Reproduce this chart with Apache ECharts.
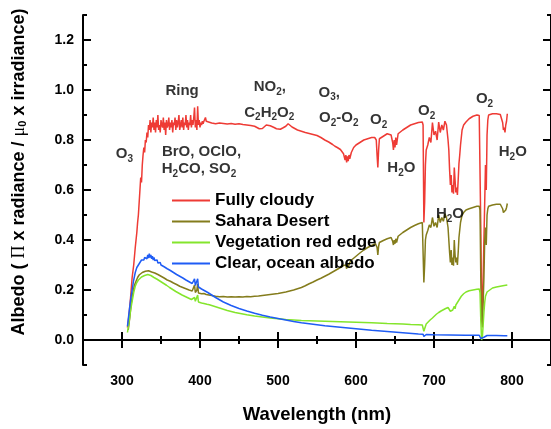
<!DOCTYPE html>
<html>
<head>
<meta charset="utf-8">
<script src="https://cdn.jsdelivr.net/npm/echarts@6/dist/echarts.min.js"></script>
<style>html,body{margin:0;padding:0;background:#fff}#c{width:551px;height:429px}</style>
</head>
<body>
<div id="c"></div>
<script>
// ---- data (wavelength nm, albedo) ----
const fullyCloudy = [
[307,0.05],[309,0.10],[311,0.17],[313,0.25],[315,0.30],[317,0.37],[319,0.43],[320,0.47],[321,0.50],[322,0.55],[323,0.60],[324,0.65],[325,0.63],[326,0.70],[327,0.74],[328,0.77],[329,0.75],[330,0.80],[331,0.79],[332,0.83],[333,0.81],[334,0.86],[335,0.84],[336,0.88],[337,0.83],[338,0.87],[339,0.85],[340,0.89],[341,0.84],[342,0.87],[343,0.83],[344,0.88],[345,0.85],[346,0.90],[347,0.84],[348,0.86],[349,0.83],[350,0.88],[351,0.86],[352,0.85],[353,0.89],[354,0.84],[355,0.87],[356,0.82],[357,0.88],[358,0.85],[359,0.86],[360,0.89],[361,0.84],[362,0.87],[363,0.85],[364,0.88],[365,0.83],[366,0.87],[367,0.86],[368,0.89],[369,0.84],[370,0.88],[371,0.85],[372,0.87],[373,0.90],[374,0.84],[375,0.86],[376,0.88],[377,0.85],[378,0.89],[379,0.84],[380,0.87],[381,0.86],[382,0.90],[383,0.85],[384,0.88],[385,0.84],[386,0.87],[387,0.86],[388,0.90],[389,0.85],[390,0.88],[391,0.86],[392,0.89],[393,0.93],[394,0.85],[395,0.88],[396,0.84],[397,0.935],[398,0.86],[399,0.88],[400,0.85],[401,0.87],[402,0.86],[403,0.875],[404,0.865],[405,0.875],[406,0.87],[407,0.89],[408,0.875],[409,0.87],[410,0.868],
[415,0.868],[420,0.865],[425,0.868],[430,0.866],[435,0.864],[440,0.866],[445,0.863],[450,0.865],[455,0.862],[460,0.86],[465,0.858],[470,0.855],[473,0.85],[476,0.845],[478,0.852],[480,0.846],[482,0.85],[485,0.86],[490,0.857],[495,0.85],[498,0.845],[500,0.852],[503,0.843],[506,0.848],[510,0.855],[513,0.865],[515,0.86],[518,0.852],[520,0.848],[525,0.84],[530,0.835],[535,0.83],[540,0.826],[545,0.822],[550,0.818],[555,0.81],[560,0.80],[565,0.792],[570,0.782],[573,0.775],[576,0.77],[578,0.765],[580,0.762],[582,0.758],[584,0.745],[586,0.72],[587,0.74],[588,0.71],[589,0.735],[590,0.715],[591,0.74],[592,0.725],[594,0.75],[597,0.77],[600,0.78],[605,0.79],[610,0.80],[615,0.805],[620,0.81],[624,0.81],[626,0.80],[627,0.74],[628,0.69],[629,0.76],[630,0.805],[635,0.815],[640,0.825],[645,0.82],[647,0.79],[648,0.76],[649,0.80],[650,0.77],[651,0.81],[652,0.78],[654,0.825],[660,0.84],[665,0.85],[670,0.86],[675,0.865],[680,0.87],[685,0.872],[686,0.86],[687,0.47],[688,0.55],[689,0.70],[690,0.76],[692,0.78],[694,0.81],[696,0.79],[698,0.87],[700,0.82],[702,0.835],[704,0.80],[706,0.872],[708,0.83],[710,0.86],[712,0.84],[714,0.875],[716,0.86],[718,0.80],[719,0.76],[720,0.68],[721,0.62],[722,0.66],[723,0.59],[724,0.62],[725,0.585],[726,0.69],[727,0.64],[728,0.59],[729,0.61],[730,0.58],[731,0.64],[732,0.706],[733,0.74],[734,0.78],[736,0.84],[738,0.86],[741,0.872],[745,0.885],[750,0.895],[755,0.90],[758,0.898],[759,0.89],[760,0.45],[761,0.15],[762,0.12],[763,0.25],[764,0.40],[765,0.55],[766,0.70],[767,0.60],[768,0.82],[769,0.88],[770,0.90],[775,0.905],[780,0.905],[785,0.902],[787,0.895],[788,0.87],[789,0.84],[790,0.85],[791,0.83],[792,0.86],[793,0.875],[794,0.905]
];
const saharaDesert = [
[308,0.04],[310,0.09],[312,0.15],[314,0.19],[316,0.22],[318,0.235],[320,0.25],[322,0.26],[324,0.265],[326,0.27],[328,0.272],[330,0.275],[332,0.28],[334,0.277],[336,0.28],[338,0.272],[340,0.276],[342,0.268],[344,0.27],[346,0.262],[348,0.265],[350,0.255],[352,0.258],[354,0.248],[356,0.25],[358,0.24],[360,0.243],[362,0.235],[364,0.236],[366,0.228],[368,0.23],[370,0.222],[372,0.224],[374,0.215],[376,0.217],[378,0.21],[380,0.212],[382,0.205],[384,0.206],[386,0.20],[388,0.202],[390,0.196],[392,0.197],[393,0.22],[394,0.19],[396,0.20],[397,0.225],[398,0.188],[400,0.19],[402,0.185],[405,0.186],[407,0.19],[408,0.182],[410,0.182],[415,0.178],[420,0.175],[425,0.173],[430,0.174],[435,0.172],[440,0.173],[445,0.172],[450,0.173],[455,0.172],[460,0.174],[465,0.173],[470,0.175],[475,0.176],[480,0.178],[485,0.18],[490,0.182],[495,0.184],[500,0.186],[505,0.189],[510,0.192],[515,0.196],[520,0.20],[525,0.205],[530,0.21],[535,0.217],[540,0.225],[545,0.232],[550,0.24],[555,0.247],[560,0.255],[565,0.263],[570,0.272],[575,0.281],[580,0.29],[584,0.298],[586,0.29],[587,0.30],[588,0.285],[589,0.305],[590,0.29],[592,0.31],[595,0.322],[600,0.335],[605,0.348],[610,0.36],[615,0.37],[620,0.378],[625,0.385],[627,0.37],[628,0.34],[629,0.375],[630,0.39],[635,0.398],[640,0.405],[645,0.41],[647,0.395],[648,0.38],[649,0.40],[650,0.385],[651,0.405],[652,0.39],[654,0.415],[660,0.43],[665,0.44],[670,0.45],[675,0.458],[680,0.465],[685,0.47],[686,0.465],[687,0.23],[688,0.30],[689,0.40],[690,0.42],[692,0.438],[694,0.46],[696,0.45],[698,0.49],[700,0.455],[702,0.47],[704,0.45],[706,0.50],[708,0.47],[710,0.49],[712,0.475],[714,0.505],[716,0.49],[718,0.45],[719,0.40],[720,0.35],[721,0.31],[722,0.36],[723,0.30],[724,0.33],[725,0.297],[726,0.40],[727,0.34],[728,0.31],[729,0.33],[730,0.30],[731,0.35],[732,0.41],[733,0.44],[734,0.47],[736,0.50],[738,0.51],[741,0.52],[745,0.525],[750,0.53],[755,0.535],[758,0.535],[759,0.52],[760,0.25],[761,0.08],[762,0.05],[763,0.15],[764,0.25],[765,0.40],[766,0.45],[767,0.38],[768,0.50],[769,0.525],[770,0.535],[775,0.54],[780,0.543],[785,0.543],[787,0.54],[788,0.525],[789,0.51],[790,0.515],[791,0.505],[792,0.52],[793,0.53],[794,0.546]
];
const vegetationRedEdge = [
[307,0.03],[309,0.07],[311,0.12],[313,0.155],[315,0.19],[317,0.215],[319,0.23],[321,0.24],[323,0.247],[325,0.252],[327,0.256],[329,0.258],[331,0.26],[333,0.262],[335,0.26],[337,0.258],[339,0.255],[341,0.25],[343,0.248],[345,0.243],[347,0.24],[349,0.235],[351,0.232],[353,0.227],[355,0.222],[357,0.219],[359,0.214],[361,0.21],[363,0.206],[365,0.202],[367,0.198],[369,0.194],[371,0.19],[373,0.187],[375,0.183],[377,0.18],[379,0.177],[381,0.174],[383,0.171],[385,0.168],[387,0.165],[389,0.162],[391,0.16],[393,0.17],[394,0.155],[396,0.153],[397,0.18],[398,0.152],[400,0.15],[402,0.148],[405,0.146],[407,0.152],[409,0.143],[412,0.141],[415,0.138],[420,0.133],[425,0.128],[430,0.123],[435,0.118],[440,0.114],[445,0.11],[450,0.107],[460,0.101],[470,0.096],[480,0.092],[490,0.088],[500,0.085],[510,0.082],[520,0.08],[530,0.078],[540,0.077],[550,0.076],[560,0.075],[570,0.074],[580,0.073],[590,0.072],[600,0.071],[610,0.07],[620,0.069],[627,0.068],[628,0.061],[629,0.067],[640,0.066],[650,0.065],[660,0.064],[670,0.062],[680,0.061],[685,0.06],[686,0.056],[687,0.035],[688,0.045],[690,0.064],[692,0.072],[695,0.08],[698,0.088],[700,0.095],[703,0.103],[706,0.11],[709,0.116],[712,0.121],[715,0.126],[718,0.13],[720,0.125],[721,0.115],[722,0.122],[723,0.11],[724,0.12],[725,0.115],[726,0.135],[727,0.125],[728,0.14],[730,0.15],[732,0.16],[735,0.175],[738,0.185],[741,0.192],[745,0.197],[750,0.20],[755,0.203],[758,0.204],[759,0.19],[760,0.08],[761,0.0],[762,0.01],[763,0.06],[764,0.11],[765,0.15],[766,0.175],[768,0.192],[770,0.20],[775,0.208],[780,0.212],[785,0.215],[790,0.218],[794,0.22]
];
const clearOceanAlbedo = [
[307,0.055],[309,0.11],[311,0.16],[313,0.20],[315,0.24],[317,0.27],[319,0.29],[321,0.30],[323,0.31],[325,0.32],[326,0.315],[327,0.325],[328,0.32],[329,0.33],[330,0.322],[331,0.335],[332,0.325],[333,0.34],[334,0.328],[335,0.345],[336,0.33],[337,0.34],[338,0.325],[339,0.335],[340,0.32],[341,0.33],[342,0.318],[343,0.326],[344,0.312],[345,0.32],[346,0.308],[347,0.315],[348,0.304],[349,0.31],[350,0.30],[352,0.302],[354,0.293],[356,0.295],[358,0.285],[360,0.287],[362,0.278],[364,0.279],[366,0.27],[368,0.271],[370,0.262],[372,0.263],[374,0.255],[376,0.256],[378,0.248],[380,0.249],[382,0.24],[384,0.242],[386,0.233],[388,0.234],[390,0.226],[392,0.227],[393,0.245],[394,0.218],[396,0.222],[397,0.245],[398,0.212],[400,0.208],[402,0.204],[404,0.201],[406,0.197],[408,0.194],[410,0.19],[415,0.18],[420,0.17],[425,0.161],[430,0.152],[435,0.145],[440,0.138],[445,0.132],[450,0.126],[460,0.116],[470,0.107],[480,0.099],[490,0.092],[500,0.086],[510,0.08],[520,0.074],[530,0.069],[540,0.065],[550,0.061],[560,0.057],[570,0.054],[580,0.051],[590,0.048],[600,0.045],[620,0.039],[640,0.034],[660,0.029],[680,0.024],[686,0.023],[687,0.014],[688,0.02],[690,0.022],[700,0.021],[720,0.02],[740,0.019],[758,0.019],[759,0.016],[760,0.006],[761,0.004],[762,0.007],[764,0.011],[766,0.015],[768,0.018],[770,0.019],[780,0.018],[790,0.017],[794,0.017]
];
const seriesNames = ['Fully cloudy','Sahara Desert','Vegetation red edge','Clear, ocean albedo'];
const xTickValues = [300,400,500,600,700,800];
const yTickValues = [0,0.2,0.4,0.6,0.8,1.0,1.2];
// annotation: [wavelength, albedo, rich text]
const annotations = [
[303,0.744,'{m|O}{s|3}'],
[377,0.997,'{m|Ring}'],
[489.5,1.013,'{m|NO}{s|2}{m|,}'],
[488.8,0.91,'{m|C}{s|2}{m|H}{s|2}{m|O}{s|2}'],
[565.6,0.99,'{m|O}{s|3}{m|,}'],
[577.9,0.888,'{m|O}{s|2}{m|-O}{s|2}'],
[629,0.879,'{m|O}{s|2}'],
[658.2,0.687,'{m|H}{s|2}{m|O}'],
[690.6,0.917,'{m|O}{s|2}'],
[764.8,0.963,'{m|O}{s|2}'],
[801,0.752,'{m|H}{s|2}{m|O}'],
[720.4,0.503,'{m|H}{s|2}{m|O}'],
[401.9,0.754,'{m|BrO, OClO,}'],
[398.7,0.683,'{m|H}{s|2}{m|CO, SO}{s|2}']
];

const colors = ['#EE3B35','#847C1C','#84E52C','#1F5CF5'];
const FONT = 'Liberation Sans, Arial, sans-serif';
const chart = echarts.init(document.getElementById('c'), null, {renderer:'canvas'});

function xAx(pos, major){
  return {type:'value', min:250, max:850, position:pos,
    axisLine:{show:major, lineStyle:{color:'#000', width:2}},
    axisTick: major ? {show:true, inside:true, length:8, customValues:xTickValues, lineStyle:{color:'#000', width:2}}
                    : {show:true, inside:true, length:4, interval:0, lineStyle:{color:'#000', width:2}},
    interval: major ? undefined : 50,
    axisLabel: (major && pos==='bottom') ? {show:true, customValues:xTickValues, color:'#000', fontSize:14, fontWeight:'bold', fontFamily:FONT, margin:9} : {show:false},
    splitLine:{show:false},
    name: (major && pos==='bottom') ? 'Wavelength (nm)' : '',
    nameLocation:'middle', nameGap:40,
    nameTextStyle:{color:'#000', fontSize:18.5, fontWeight:'bold', fontFamily:FONT}
  };
}
function yAx(pos, major){
  return {type:'value', min:-0.1, max:1.3, position:pos,
    axisLine:{show:major, lineStyle:{color:'#000', width:2}},
    axisTick: major ? {show:true, inside:true, length:8, customValues:yTickValues, lineStyle:{color:'#000', width:2}}
                    : {show:true, inside:true, length:4, lineStyle:{color:'#000', width:2}},
    interval: major ? undefined : 0.1,
    axisLabel: (major && pos==='left') ? {show:true, customValues:yTickValues, formatter:v=>v.toFixed(1), color:'#000', fontSize:14, fontWeight:'bold', fontFamily:FONT, margin:9} : {show:false},
    splitLine:{show:false}
  };
}

const lineSeries = [fullyCloudy, saharaDesert, vegetationRedEdge, clearOceanAlbedo].map((d,i)=>({
  name: seriesNames[i], type:'line', data:d, showSymbol:false, symbol:'none',
  color: colors[i], lineStyle:{color:colors[i], width:1.5}, itemStyle:{color:colors[i]},
  xAxisIndex:0, yAxisIndex:0, z:2+i, animation:false
}));

const annoSeries = {
  type:'scatter', xAxisIndex:0, yAxisIndex:0, symbolSize:0, silent:true, z:10,
  data: annotations.map(a=>({value:[a[0],a[1]], label:{formatter:a[2]}})),
  label:{show:true, position:'inside', color:'#000',
    rich:{
      m:{fontSize:15, fontWeight:'bold', fontFamily:FONT, color:'#000', lineHeight:20, verticalAlign:'middle'},
      s:{fontSize:10, fontWeight:'bold', fontFamily:FONT, color:'#000', lineHeight:20, padding:[10,0,0,0], verticalAlign:'middle'}
    }
  }
};

chart.setOption({
  animation:false,
  backgroundColor:'#fff',
  grid:{left:83, right:-5, top:15, bottom:48.5, containLabel:false},
  xAxis:[xAx('bottom',true), xAx('bottom',false), xAx('top',true), xAx('top',false)],
  yAxis:[yAx('left',true), yAx('left',false), yAx('right',true), yAx('right',false)],
  legend:{data:seriesNames, orient:'vertical', left:167, top:187, icon:'rect', itemWidth:38, itemHeight:2,
    itemGap:4, selectedMode:false,
    textStyle:{color:'#000', fontSize:17, fontWeight:'bold', fontFamily:FONT, lineHeight:17}},
  graphic:[{
    type:'text', x:19, y:172, rotation:Math.PI/2,
    style:{
      text:'{b|Albedo ( }{g|Π}{b| x radiance / }{g|μ}{u|0}{b| x irradiance)}',
      align:'center', verticalAlign:'middle',
      rich:{
        b:{fontSize:18, fontWeight:'bold', fontFamily:FONT, fill:'#000', lineHeight:22},
        g:{fontSize:18, fontFamily:'Liberation Serif, DejaVu Serif, serif', fill:'#000', lineHeight:22},
        u:{fontSize:11, fontWeight:'bold', fontFamily:FONT, fill:'#000', lineHeight:22, padding:[8,0,0,0]}
      }
    }
  }],
  series: lineSeries.concat([annoSeries])
});
</script>
</body>
</html>
